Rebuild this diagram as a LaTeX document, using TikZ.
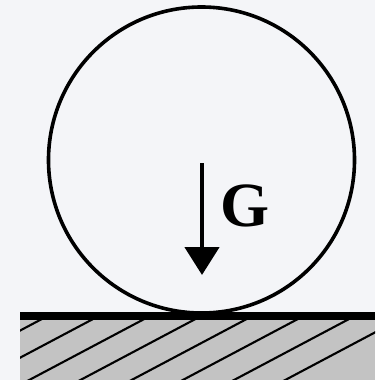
\documentclass[tikz,border=0pt]{standalone}
\usepackage{fontspec}
\setmainfont{Liberation Serif}
\usetikzlibrary{arrows.meta}
\definecolor{bgpage}{HTML}{F4F5F8}
\definecolor{soil}{HTML}{C3C3C3}

\begin{document}
\begin{tikzpicture}[
      x=1pt, y=-1pt,
      body/.style={draw=black, line width=3.6pt},
      groundline/.style={draw=black, line width=8pt},
      hatch/.style={draw=black, line width=2.1pt},
      force/.style={line width=4.8pt, -{Triangle[length=28pt, width=34pt]}},
      lbl/.style={font=\fontsize{63}{63}\selectfont\bfseries, inner sep=0pt}]

    % Page background (fixes the margins)
    \fill[bgpage] (0,0) rectangle (375,380);
    \useasboundingbox (0,0) rectangle (375,380);

    % Ground: grey fill with hatching
    \fill[soil] (20,316) rectangle (375,380);
    \begin{scope}
        \clip (20,316) rectangle (375,380);
        \foreach \k in {-1,...,7} {
            \pgfmathsetmacro{\xa}{40+51.2*\k}
            \draw[hatch] (\xa+20, 320-0.53*20) -- (\xa-140, 320+0.53*140);
        }
    \end{scope}
    \draw[groundline] (20,315.5) -- (375,315.5);

    % Rolling body
    \node[body, circle, minimum size=306pt, inner sep=0pt] (wheel) at (201.5,160) {};

    % Weight
    \coordinate (gtop) at (202,163);
    \coordinate (gbot) at (202,275);
    \draw[force] (gtop) -- (gbot);
    \node[lbl] (glbl) at (244.5,206) {G};

\end{tikzpicture}
\end{document}
